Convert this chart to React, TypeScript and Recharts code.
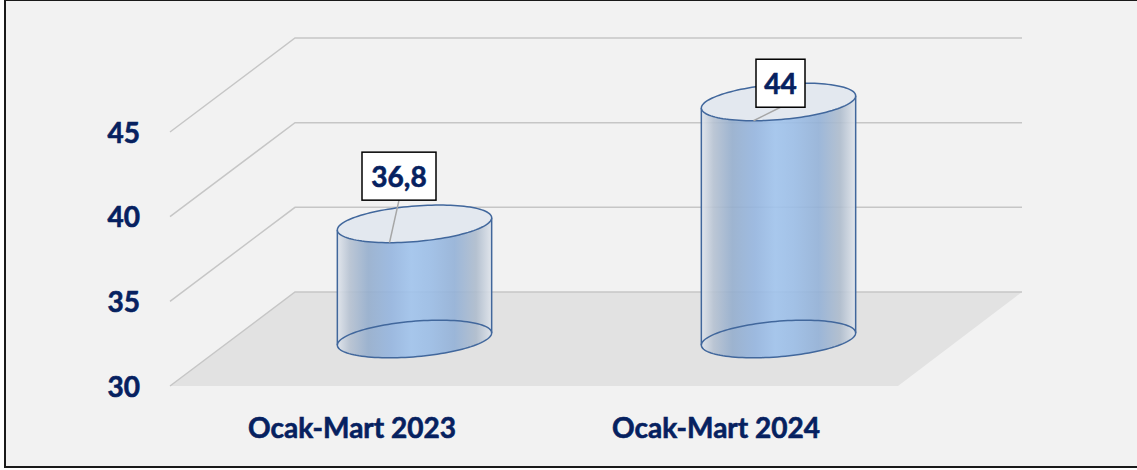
import React from 'react';
import { BarChart, Bar, XAxis, YAxis, CartesianGrid, LabelList } from 'recharts';

const categories = ['Ocak-Mart 2023', 'Ocak-Mart 2024'];
const values = [36.8, 44];
const valueLabels = ['36,8', '44'];
const yTicks = [30, 35, 40, 45];
const yDomain = [30, 45];

const data = categories.map((name, i) => ({ name, value: values[i], label: valueLabels[i] }));

// layout
const W = 1137;
const H = 470;
const PLOT_LEFT = 170;
const PLOT_RIGHT = 898;
const PLOT_TOP = 132;
const PLOT_BOTTOM = 386;
const X_AXIS_H = 40;
const DEPTH_X = 125;
const DEPTH_Y = 94;
const BACK_RIGHT = PLOT_RIGHT + DEPTH_X - 1;
const NAVY = '#062160';
const FONT = 'Lato, "Open Sans", sans-serif';
const GRID = '#c6c6c6';
const FLOOR = '#e2e2e2';
const CYL_STROKE = '#41679c';
const R_DEPTH = 0.2;
const TEXT_STROKE = 0.6;

const LABEL_BOX = [
  { ox: 9.5, oy: -66.5, w: 74, h: 48 },
  { ox: 27, oy: -37.5, w: 49, h: 48 },
];

const GridLine = (props: any) => {
  const { x1, y1, x2, index } = props;
  const isFloor = Math.abs(y1 - PLOT_BOTTOM) < 1;
  const bx = x1 + DEPTH_X;
  const by = y1 - DEPTH_Y;
  return (
    <g key={`g-${index}-${y1}`}>
      {isFloor && (
        <polygon
          points={`${x1},${y1} ${bx},${by} ${BACK_RIGHT},${by} ${x2},${y1}`}
          fill={FLOOR}
          stroke="none"
        />
      )}
      <polyline
        points={`${x1},${y1} ${bx},${by} ${BACK_RIGHT},${by}`}
        fill="none"
        stroke={GRID}
        strokeWidth={1.5}
      />
    </g>
  );
};

const YTick = (props: any) => {
  const { y, payload } = props;
  return (
    <text
      x={140}
      y={y + 10.5}
      textAnchor="end"
      fontFamily={FONT}
      fontWeight={700}
      fontSize={28}
      fill={NAVY}
      stroke={NAVY}
      strokeWidth={TEXT_STROKE}
    >
      {payload.value}
    </text>
  );
};

const XTick = (props: any) => {
  const { x, payload } = props;
  return (
    <text
      x={x}
      y={438}
      textAnchor="middle"
      fontFamily={FONT}
      fontWeight={700}
      fontSize={28}
      fill={NAVY}
      stroke={NAVY}
      strokeWidth={TEXT_STROKE}
    >
      {payload.value}
    </text>
  );
};

function ellipsePts(cx: number, cy: number, a: number, dx: number, dy: number, tStart: number, tEnd: number, n = 60) {
  const pts: [number, number][] = [];
  for (let k = 0; k <= n; k++) {
    const t = tStart + ((tEnd - tStart) * k) / n;
    pts.push([cx + a * Math.cos(t) + dx * Math.sin(t), cy - dy * Math.sin(t)]);
  }
  return pts;
}

const toPath = (pts: [number, number][], move = true) =>
  pts.map((p, i) => `${i === 0 && move ? 'M' : 'L'}${p[0].toFixed(2)},${p[1].toFixed(2)}`).join(' ');

const Cylinder = (props: any) => {
  const { x, y, width, height } = props;
  if (x == null || y == null) return null;
  const a = width / 2;
  const dx = R_DEPTH * DEPTH_X;
  const dy = R_DEPTH * DEPTH_Y;
  const cx = x + width / 2 + DEPTH_X / 2;
  const topY = y - DEPTH_Y / 2;
  const baseY = y + height - DEPTH_Y / 2;
  const t0 = Math.atan2(dx, a);
  const bottomFront = ellipsePts(cx, baseY, a, dx, dy, t0, t0 - Math.PI);
  const topFrontRev = ellipsePts(cx, topY, a, dx, dy, t0 - Math.PI, t0);
  const bodyPath = toPath(bottomFront) + ' ' + toPath(topFrontRev, false) + ' Z';
  const bottomFull = ellipsePts(cx, baseY, a, dx, dy, 0, Math.PI * 2, 120);
  const topFull = ellipsePts(cx, topY, a, dx, dy, 0, Math.PI * 2, 120);
  const L0 = topFrontRev[0];
  const L1 = bottomFront[bottomFront.length - 1];
  const R0 = topFrontRev[topFrontRev.length - 1];
  const R1 = bottomFront[0];
  return (
    <g>
      <path d={bodyPath} fill="url(#cylGrad)" fillOpacity={0.9} stroke="none" />
      <path d={toPath(bottomFull) + ' Z'} fill="none" stroke={CYL_STROKE} strokeWidth={1.5} />
      <line x1={L0[0]} y1={L0[1]} x2={L1[0]} y2={L1[1]} stroke={CYL_STROKE} strokeWidth={1.5} />
      <line x1={R0[0]} y1={R0[1]} x2={R1[0]} y2={R1[1]} stroke={CYL_STROKE} strokeWidth={1.5} />
      <path d={toPath(topFull) + ' Z'} fill="#e3e8ef" stroke={CYL_STROKE} strokeWidth={1.5} />
    </g>
  );
};

const ValueLabel = (props: any) => {
  const { x, y, width, value, index } = props;
  if (x == null) return null;
  const dx = R_DEPTH * DEPTH_X;
  const dy = R_DEPTH * DEPTH_Y;
  const cx = x + width / 2 + DEPTH_X / 2;
  const topY = y - DEPTH_Y / 2;
  const fx = cx - dx;
  const fy = topY + dy;
  const b = LABEL_BOX[index] || LABEL_BOX[0];
  const bcx = fx + b.ox;
  const bcy = fy + b.oy;
  return (
    <g>
      <line x1={bcx} y1={bcy + b.h / 2} x2={fx} y2={fy} stroke="#a6a6a6" strokeWidth={1.5} />
      <rect x={bcx - b.w / 2} y={bcy - b.h / 2} width={b.w} height={b.h} fill="#ffffff" stroke="#000000" strokeWidth={1.5} />
      <text
        x={bcx}
        y={bcy + 10.5}
        textAnchor="middle"
        fontFamily={FONT}
        fontWeight={700}
        fontSize={28}
        fill={NAVY}
        stroke={NAVY}
        strokeWidth={TEXT_STROKE}
      >
        {value}
      </text>
    </g>
  );
};

export default function App() {
  return (
    <div style={{ position: 'absolute', left: 0, top: 0, width: W, height: H, background: '#ffffff', overflow: 'hidden' }}>
      <div
        style={{
          position: 'absolute',
          left: 4,
          top: -1,
          width: W + 10,
          height: 469,
          boxSizing: 'border-box',
          border: '2px solid #1a1a1a',
          background: '#f2f2f2',
        }}
      />
      <div style={{ position: 'absolute', left: 0, top: 0 }}>
        <BarChart
          width={W}
          height={H}
          data={data}
          margin={{ top: PLOT_TOP, right: W - PLOT_RIGHT, bottom: H - PLOT_BOTTOM - X_AXIS_H, left: 0 }}
          barCategoryGap={0}
        >
          <defs>
            <linearGradient id="cylGrad" x1="0" y1="0" x2="1" y2="0">
              <stop offset="0%" stopColor="#dfe4eb" />
              <stop offset="8%" stopColor="#b6c2d2" />
              <stop offset="20%" stopColor="#95aecd" />
              <stop offset="35%" stopColor="#95b5df" />
              <stop offset="48%" stopColor="#a0c3ec" />
              <stop offset="60%" stopColor="#9bbde6" />
              <stop offset="76%" stopColor="#93b1d7" />
              <stop offset="90%" stopColor="#aebccd" />
              <stop offset="100%" stopColor="#dfe4eb" />
            </linearGradient>
          </defs>
          <CartesianGrid vertical={false} horizontal={(p: any) => <GridLine {...p} />} />
          <YAxis
            type="number"
            domain={yDomain}
            ticks={yTicks}
            interval={0}
            axisLine={false}
            tickLine={false}
            width={PLOT_LEFT}
            tick={<YTick />}
          />
          <XAxis dataKey="name" axisLine={false} tickLine={false} height={X_AXIS_H} interval={0} tick={<XTick />} />
          <Bar dataKey="value" barSize={146} isAnimationActive={false} shape={(p: any) => <Cylinder {...p} />}>
            <LabelList dataKey="label" content={(p: any) => <ValueLabel {...p} />} />
          </Bar>
        </BarChart>
      </div>
    </div>
  );
}
